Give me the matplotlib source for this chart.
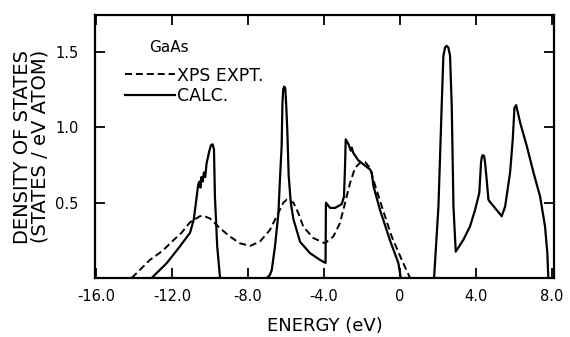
"""
GaAs density of states: XPS experiment vs calculation.
"""

import matplotlib.pyplot as plt

# calculated DOS, lower valence band
calc_low_x = [-13.07, -12.28, -11.58, -11.05, -10.85, -10.7, -10.62, -10.55, -10.5, -10.45,
              -10.38, -10.32, -10.25, -10.18, -10.04, -9.95, -9.86, -9.79, -9.74, -9.62, -9.47]
calc_low_y = [0.0, 0.098, 0.21, 0.3, 0.39, 0.54, 0.62, 0.64, 0.6, 0.67,
              0.64, 0.7, 0.67, 0.76, 0.84, 0.88, 0.887, 0.853, 0.54, 0.21, 0.0]

# calculated DOS, upper valence bands
calc_mid_x = [-7.0, -6.85, -6.75, -6.58, -6.4, -6.32, -6.23, -6.19, -6.15, -6.1, -6.04, -5.99,
              -5.93, -5.86, -5.75, -5.61, -5.26, -4.74, -4.21, -3.92, -3.9, -3.68, -3.42, -3.07,
              -2.95, -2.89, -2.86, -2.72, -2.59, -2.54, -2.46, -2.19, -1.58, -1.49, -1.4, -1.05,
              -0.53, -0.09, 0.04]
calc_mid_y = [0.0, 0.02, 0.053, 0.21, 0.43, 0.65, 0.875, 1.15, 1.25, 1.27, 1.26, 1.15,
              0.97, 0.68, 0.5, 0.39, 0.24, 0.165, 0.12, 0.1, 0.5, 0.465, 0.465, 0.49,
              0.54, 0.76, 0.92, 0.89, 0.845, 0.865, 0.83, 0.78, 0.72, 0.7, 0.61, 0.45,
              0.25, 0.1, 0.0]

# calculated DOS, conduction bands
calc_cb_x = [1.79, 2.02, 2.19, 2.28, 2.37, 2.45, 2.54, 2.63, 2.72, 2.81, 2.93, 3.33, 3.68,
             3.95, 4.17, 4.26, 4.3, 4.35, 4.42, 4.47, 4.56, 4.65, 4.7, 5.35, 5.53, 5.79, 5.93,
             6.02, 6.11, 6.32, 6.67, 7.02, 7.37, 7.63, 7.75, 7.8]
calc_cb_y = [0.0, 0.475, 1.14, 1.475, 1.53, 1.54, 1.53, 1.475, 1.14, 0.475, 0.175, 0.253, 0.342,
             0.453, 0.565, 0.765, 0.8, 0.815, 0.81, 0.77, 0.65, 0.52, 0.51, 0.41, 0.475, 0.7, 0.92,
             1.13, 1.147, 1.03, 0.875, 0.7, 0.54, 0.34, 0.165, 0.0]

# XPS experiment
xps_x = [-14.12, -13.16, -12.5, -11.93, -11.5, -11.05, -10.53, -10.35, -10.0, -9.47, -8.95,
         -8.42, -7.89, -7.37, -6.84, -6.49, -6.14, -5.96, -5.61, -5.35, -5.09, -4.56, -3.95,
         -3.51, -3.16, -2.89, -2.63, -2.37, -2.1, -1.84, -1.58, -1.4, -0.96, -0.44, 0.09, 0.53]
xps_y = [0.0, 0.12, 0.18, 0.25, 0.3, 0.37, 0.41, 0.413, 0.395, 0.33, 0.275,
         0.23, 0.213, 0.242, 0.32, 0.41, 0.5, 0.52, 0.5, 0.43, 0.34, 0.265, 0.23,
         0.275, 0.365, 0.5, 0.63, 0.73, 0.765, 0.77, 0.73, 0.65, 0.475, 0.275, 0.12, 0.0]

x_ticks = [-16.0, -12.0, -8.0, -4.0, 0.0, 4.0, 8.0]
x_tick_labels = ["-16.0", "-12.0", "-8.0", "-4.0", "0", "4.0", "8.0"]
y_ticks = [0.5, 1.0, 1.5]
y_tick_labels = ["0.5", "1.0", "1.5"]

plt.rcParams["font.family"] = ["DejaVu Sans"]

fig = plt.figure(figsize=(5.7, 3.37), dpi=100)
ax = fig.add_axes([95 / 570, 59 / 337, 459 / 570, 263 / 337])

xps_line, = ax.plot(xps_x, xps_y, color="black", lw=1.4, dashes=(3.6, 2.0))
calc_line, = ax.plot(calc_low_x, calc_low_y, color="black", lw=1.6)
ax.plot(calc_mid_x, calc_mid_y, color="black", lw=1.6)
ax.plot(calc_cb_x, calc_cb_y, color="black", lw=1.6)

ax.set_xlim(-16.05, 8.1)
ax.set_ylim(0, 1.745)
ax.set_xticks(x_ticks)
ax.set_xticklabels(x_tick_labels)
ax.set_yticks(y_ticks)
ax.set_yticklabels(y_tick_labels)
ax.tick_params(direction="in", length=7, width=1.3, top=True, right=True, labelsize=10.5)
ax.tick_params(axis="y", pad=12)
ax.tick_params(axis="x", pad=8)
for spine in ax.spines.values():
    spine.set_linewidth(1.6)

ax.set_xlabel("ENERGY (eV)", fontsize=13, labelpad=9)
ax.set_ylabel("DENSITY OF STATES\n(STATES / eV ATOM)", fontsize=14, labelpad=4, linespacing=0.9)

ax.text(0.118, 0.876, "GaAs", transform=ax.transAxes, va="center", ha="left", fontsize=11)
ax.legend([xps_line, calc_line], ["XPS EXPT.", "CALC."], loc="upper left",
          bbox_to_anchor=(0.065, 0.804), frameon=False, borderpad=0, borderaxespad=0,
          handlelength=2.9, handletextpad=0.1, labelspacing=0.12, fontsize=12.5)

fig.savefig("out.png", dpi=100)
